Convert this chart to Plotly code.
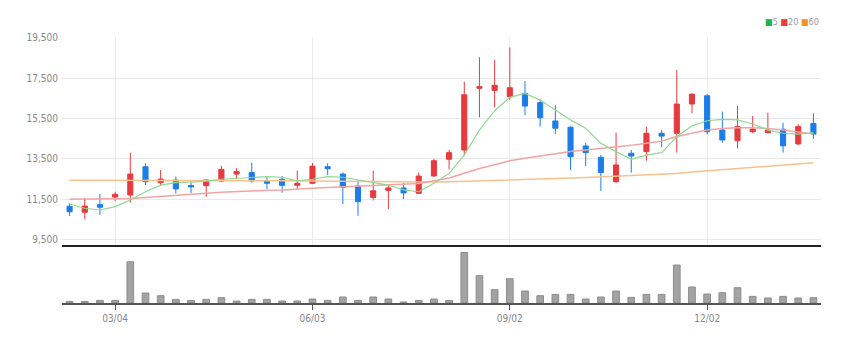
import plotly.graph_objects as go

dates = ["2019-02-11","2019-02-18","2019-02-25","2019-03-04","2019-03-11","2019-03-18","2019-03-25",
         "2019-04-01","2019-04-08","2019-04-15","2019-04-22","2019-04-29","2019-05-06","2019-05-13",
         "2019-05-20","2019-05-27","2019-06-03","2019-06-10","2019-06-17","2019-06-24","2019-07-01",
         "2019-07-08","2019-07-15","2019-07-22","2019-07-29","2019-08-05","2019-08-12","2019-08-19",
         "2019-08-26","2019-09-02","2019-09-09","2019-09-16","2019-09-23","2019-09-30","2019-10-07",
         "2019-10-14","2019-10-21","2019-10-28","2019-11-04","2019-11-11","2019-11-18","2019-11-25",
         "2019-12-02","2019-12-09","2019-12-16","2019-12-23","2019-12-30","2020-01-06","2020-01-13",
         "2020-01-20"]

opens = [11140,10840,11220,11600,11700,13100,12310,12440,12170,12160,12390,12740,12810,12390,12480,12180,
         12280,13100,12740,12145,11580,11930,12050,11780,12640,13470,13930,16990,16890,16570,16740,16280,
         15370,15060,14130,13570,12360,13770,13850,14760,14760,16210,16620,14920,14390,14840,14790,14960,
         14230,15250]
highs = [11290,11560,11750,11860,13800,13270,12940,12610,12380,12480,13140,13030,13300,12610,12640,12910,
         13290,13270,12810,12440,12910,12150,12280,12810,13500,13930,17320,18530,18390,19020,17350,16440,
         16150,15100,14290,13680,14790,13930,15090,14920,17900,16740,16700,15830,16110,15620,15780,15280,
         15200,15750]
lows = [10660,10490,10710,11400,11320,12190,12150,11780,11800,11610,12330,12480,12310,12000,11810,11950,
        12250,12690,11250,10670,11420,11000,11500,11750,12600,12970,13680,15550,16050,16410,15650,15090,
        14710,12940,13140,11900,12280,12810,13400,14060,13800,15750,14700,14290,14010,14760,14760,13800,
        14180,14480]
closes = [10870,11150,11090,11730,12740,12360,12490,12000,12100,12440,12970,12860,12390,12280,12180,12280,
          13130,13000,12080,11370,11910,12050,11800,12640,13400,13800,16670,17070,17140,17020,16110,15530,
          15010,13600,13800,12810,13190,13630,14760,14620,16210,16700,14840,14430,15090,14970,14920,14140,
          15090,14720]

ma5 = [11250,11040,10955,11120,11450,11860,12190,12310,12340,12390,12480,12530,12580,12610,12580,12400,
       12480,12610,12580,12440,12330,12190,11950,11860,12280,12770,13680,14920,15880,16540,16740,16410,
       15910,15420,15010,14260,13850,13470,13680,13800,14590,15130,15380,15450,15420,15220,14920,14760,
       14720,14790]
ma20 = [11483,11483,11483,11483,11520,11570,11614,11670,11720,11780,11830,11870,11910,11930,11950,11975,
        12030,12070,12110,12150,12190,12210,12250,12275,12400,12540,12780,13010,13200,13400,13520,13630,
        13760,13860,13930,14000,14070,14160,14260,14370,14600,14760,14920,15000,15040,15030,15000,14920,
        14830,14730]
ma60 = [12430,12430,12430,12430,12430,12430,12430,12430,12430,12430,12430,12430,12430,12420,12410,12400,
        12390,12380,12370,12360,12350,12340,12330,12330,12340,12350,12370,12400,12430,12460,12480,12490,
        12510,12540,12570,12600,12630,12660,12690,12720,12760,12840,12900,12960,13020,13080,13140,13190,
        13250,13300]

volumes = [16000,15000,26000,26000,413000,100000,73000,36000,26000,36000,53000,20000,36000,36000,20000,
           20000,40000,26000,60000,26000,60000,40000,10000,26000,40000,26000,506000,273000,133000,243000,
           120000,73000,86000,86000,40000,60000,120000,56000,86000,86000,380000,160000,90000,103000,153000,
           66000,50000,66000,50000,53000]

tick_dates = ["2019-03-04", "2019-06-03", "2019-09-02", "2019-12-02"]
tick_labels = ["03/04", "06/03", "09/02", "12/02"]
price_ticks = [9500, 11500, 13500, 15500, 17500, 19500]

FONT = "Liberation Sans Narrow, DejaVu Sans Condensed, Arial Narrow, Liberation Sans, sans-serif"
RED = "#e63a3f"
BLUE = "#1c7de8"

fig = go.Figure()

fig.add_trace(go.Candlestick(
    x=dates, open=opens, high=highs, low=lows, close=closes,
    increasing=dict(line=dict(color=RED, width=1), fillcolor=RED),
    decreasing=dict(line=dict(color=BLUE, width=1), fillcolor=BLUE),
    whiskerwidth=0, xaxis="x", yaxis="y", showlegend=False, name="",
))
fig.add_trace(go.Scatter(x=dates, y=ma60, mode="lines", line=dict(color="#f7c08e", width=1.5),
                         xaxis="x", yaxis="y", showlegend=False, name="60"))
fig.add_trace(go.Scatter(x=dates, y=ma20, mode="lines", line=dict(color="#f4a3a3", width=1.5),
                         xaxis="x", yaxis="y", showlegend=False, name="20"))
fig.add_trace(go.Scatter(x=dates, y=ma5, mode="lines", line=dict(color="#8fd98f", width=1.2),
                         xaxis="x", yaxis="y", showlegend=False, name="5"))

fig.add_trace(go.Bar(x=dates, y=volumes, width=0.44,
                     marker=dict(color="#a3a3a3", line=dict(color="#8c8c8c", width=1)),
                     xaxis="x2", yaxis="y2", showlegend=False, name="vol"))

fig.update_layout(
    width=859, height=341,
    margin=dict(l=62, r=38, t=37, b=38),
    paper_bgcolor="white", plot_bgcolor="white",
    font=dict(family=FONT, size=10, color="#888"),
    boxgap=0.52,
    xaxis=dict(type="category", domain=[0, 1], anchor="y", range=[-0.5, 49.5],
               rangeslider=dict(visible=False),
               showline=True, linecolor="#222", linewidth=2,
               showgrid=True, gridcolor="#ececec", gridwidth=1,
               tickvals=tick_dates, ticktext=tick_labels, showticklabels=False, ticks=""),
    yaxis=dict(domain=[0.218, 1], range=[9218, 19535], tickvals=price_ticks, tickformat=",",
               showgrid=True, gridcolor="#e9e9e9", gridwidth=1, zeroline=False, showline=False,
               ticks="", ticklabelstandoff=3, tickfont=dict(family=FONT, size=10, color="#888")),
    xaxis2=dict(type="category", domain=[0, 1], anchor="y2", matches="x", range=[-0.5, 49.5],
                showline=True, linecolor="#555", linewidth=2, showgrid=False,
                tickvals=tick_dates, ticktext=tick_labels, ticks="outside", ticklen=5,
                tickcolor="#555", tickwidth=1,
                tickfont=dict(family=FONT, size=10, color="#888")),
    yaxis2=dict(domain=[0, 0.199], range=[0, 530000], showticklabels=False, showgrid=False,
                zeroline=False, showline=False),
    annotations=[dict(
        xref="paper", yref="paper", x=1.0, y=1.056, xanchor="right", yanchor="middle",
        showarrow=False,
        text="<span style='color:#22b14c'>■</span>5 <span style='color:#ec3b3b'>■</span>20 "
             "<span style='color:#f7931e'>■</span>60",
        font=dict(family=FONT, size=9, color="#999"),
    )],
)

fig.write_html("out.html")
